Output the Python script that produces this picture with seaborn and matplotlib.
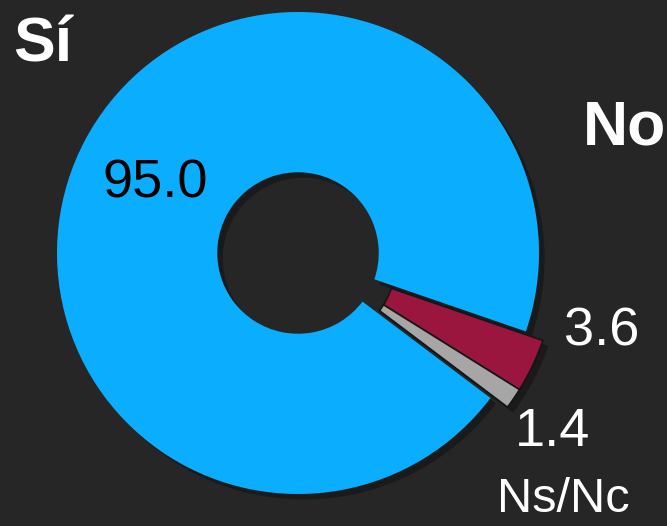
import math
import matplotlib
matplotlib.use("Agg")
import matplotlib.pyplot as plt
import matplotlib.patheffects as pe
import seaborn as sns

labels = ["Sí", "No", "Ns/Nc"]
values = [95.0, 3.6, 1.4]
value_labels = ["95.0", "3.6", "1.4"]
colors = ["#0BAEFF", "#9B163F", "#A6A6A6"]
explode_frac = 0.08  # "No" and "Ns/Nc" pulled out together

BG = "#262626"
sns.set_theme(style="dark")
plt.rcParams["font.family"] = ["Liberation Sans", "DejaVu Sans"]

W, H = 667, 526
fig = plt.figure(figsize=(W / 100, H / 100), dpi=100, facecolor=BG)
ax = fig.add_axes([0, 0, 1, 1])
ax.set_facecolor(BG)

cx, cy, r = 298, H - 253, 241
wedges, _ = ax.pie(values, colors=colors, startangle=-37, counterclock=False,
                   center=(cx, cy), radius=r,
                   wedgeprops=dict(width=r * 0.665, linewidth=0),
                   frame=True)
angs = [wedges[1].theta1, wedges[1].theta2, wedges[2].theta1, wedges[2].theta2]
mid = math.radians((min(angs) + max(angs)) / 2)
d = explode_frac * r
for i, w in enumerate(wedges):
    w.set_path_effects([pe.SimplePatchShadow(offset=(4, -4), shadow_rgbFace="black", alpha=0.3), pe.Normal()])
    if i > 0:
        w.set_center((cx + d * math.cos(mid), cy + d * math.sin(mid)))
        w.set_edgecolor("#151515")
        w.set_linewidth(1.2)
ax.set_xlim(0, W)
ax.set_ylim(0, H)
ax.set_aspect("equal")
ax.axis("off")

def t(x, y, s, **kw):
    ax.text(x, H - y, s, ha="center", va="center", **kw)

t(43, 45, labels[0], color="white", fontsize=45, fontweight="bold")
t(625, 128, labels[1], color="white", fontsize=45, fontweight="bold")
t(563, 500, labels[2], color="white", fontsize=35)
t(155, 183, value_labels[0], color="black", fontsize=39)
t(602, 331, value_labels[1], color="white", fontsize=39)
t(553, 432, value_labels[2], color="white", fontsize=39)

fig.savefig("out.png", dpi=100, facecolor=BG)
